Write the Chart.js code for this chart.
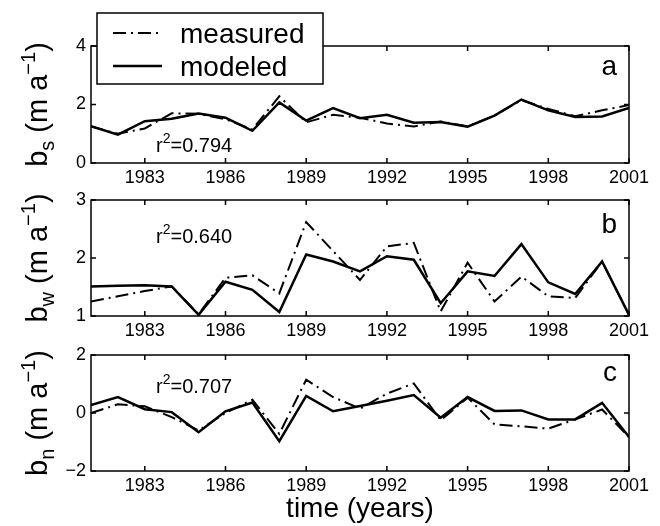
<!DOCTYPE html>
<html>
<head>
<meta charset="utf-8">
<script src="https://cdn.jsdelivr.net/npm/chart.js@4/dist/chart.umd.min.js"></script>
<style>
  html, body { margin: 0; padding: 0; background: #fff; }
  #wrap { position: relative; width: 660px; height: 526px; overflow: hidden; }
  #wrap canvas { position: absolute; left: 0; }
</style>
</head>
<body>
<div id="wrap">
  <canvas id="panelA" width="660" height="200" style="top:0px"></canvas>
  <canvas id="panelB" width="660" height="180" style="top:170px"></canvas>
  <canvas id="panelC" width="660" height="196" style="top:330px"></canvas>
</div>
<script>
const years = [1981, 1982, 1983, 1984, 1985, 1986, 1987, 1988, 1989, 1990, 1991,
               1992, 1993, 1994, 1995, 1996, 1997, 1998, 1999, 2000, 2001];
const xTicks = [1983, 1986, 1989, 1992, 1995, 1998, 2001];
const seriesNames = ["measured", "modeled"];

// panel a : summer balance
const bsMeasured = [1.25, 1.0, 1.18, 1.7, 1.68, 1.5, 1.15, 2.28, 1.39, 1.65, 1.55,
                    1.35, 1.25, 1.42, 1.25, 1.62, 2.15, 1.85, 1.6, 1.8, 1.98];
const bsModeled  = [1.26, 0.97, 1.43, 1.51, 1.69, 1.55, 1.10, 2.07, 1.45, 1.88, 1.53,
                    1.65, 1.38, 1.40, 1.24, 1.62, 2.17, 1.80, 1.57, 1.59, 1.88];
const bsTicks = [0, 2, 4];

// panel b : winter balance
const bwMeasured = [1.25, 1.34, 1.43, 1.51, 1.03, 1.66, 1.70, 1.39, 2.62, 2.12, 1.62,
                    2.2, 2.26, 1.08, 1.92, 1.25, 1.68, 1.34, 1.31, 1.94, 1.02];
const bwModeled  = [1.51, 1.52, 1.53, 1.51, 1.02, 1.59, 1.45, 1.07, 2.06, 1.94, 1.77,
                    2.03, 1.97, 1.22, 1.77, 1.69, 2.24, 1.58, 1.38, 1.94, 1.02];
const bwTicks = [1, 2, 3];

// panel c : net balance
const bnMeasured = [0.0, 0.3, 0.23, -0.14, -0.6, 0.0, 0.46, -0.72, 1.15, 0.55, 0.15,
                    0.67, 1.02, -0.25, 0.53, -0.39, -0.46, -0.54, -0.22, 0.12, -0.83];
const bnModeled  = [0.27, 0.55, 0.13, 0.03, -0.66, 0.06, 0.36, -0.97, 0.59, 0.06, 0.24,
                    0.42, 0.62, -0.16, 0.55, 0.07, 0.09, -0.22, -0.22, 0.35, -0.83];
const bnTicks = [-2, 0, 2];

const FONT = "'Liberation Sans', Arial, Helvetica, sans-serif";
const DASHDOT = [13, 5, 2, 5];

function pts(vals) {
  return years.map((yr, i) => ({ x: yr, y: vals[i] }));
}

// draws a row of text pieces (normal / sub / sup) starting at x
function richText(ctx, parts, x, y) {
  parts.forEach(p => {
    ctx.font = p.size + "px " + FONT;
    ctx.fillText(p.t, x, y + (p.dy || 0));
    x += ctx.measureText(p.t).width;
  });
}
function richWidth(ctx, parts) {
  let w = 0;
  parts.forEach(p => { ctx.font = p.size + "px " + FONT; w += ctx.measureText(p.t).width; });
  return w;
}

const panelDeco = {
  id: 'panelDeco',
  afterDraw(chart, args, o) {
    const ctx = chart.ctx, a = chart.chartArea;
    const xs = chart.scales.x, ys = chart.scales.y;
    ctx.save();
    ctx.strokeStyle = '#000';
    ctx.fillStyle = '#000';
    ctx.lineWidth = 1.5;
    ctx.setLineDash([]);
    ctx.strokeRect(a.left, a.top, a.width, a.height);

    // inward ticks, MATLAB style
    ctx.beginPath();
    xTicks.forEach(v => {
      const px = xs.getPixelForValue(v);
      ctx.moveTo(px, a.bottom); ctx.lineTo(px, a.bottom - 5);
      ctx.moveTo(px, a.top); ctx.lineTo(px, a.top + 5);
    });
    o.yTicks.forEach(v => {
      const py = ys.getPixelForValue(v);
      ctx.moveTo(a.left, py); ctx.lineTo(a.left + 5, py);
      ctx.moveTo(a.right, py); ctx.lineTo(a.right - 5, py);
    });
    ctx.stroke();

    ctx.textBaseline = 'alphabetic';
    ctx.textAlign = 'left';

    // r^2 note
    richText(ctx, [
      { t: 'r', size: 20 },
      { t: '2', size: 14, dy: -9 },
      { t: '=' + o.r2, size: 20 }
    ], 156, a.top + o.r2Dy);

    // panel letter
    ctx.font = "28px " + FONT;
    ctx.textAlign = 'right';
    ctx.fillText(o.letter, 617, a.top + o.letterDy);
    ctx.textAlign = 'left';

    // y axis title, rotated
    const parts = [
      { t: 'b', size: 29 },
      { t: o.sub, size: 20, dy: 7 },
      { t: ' (m a', size: 29 },
      { t: '\u22121', size: 20, dy: -12 },
      { t: ')', size: 29 }
    ];
    const w = richWidth(ctx, parts);
    ctx.save();
    ctx.translate(47, (a.top + a.bottom) / 2);
    ctx.rotate(-Math.PI / 2);
    richText(ctx, parts, -w / 2, 0);
    ctx.restore();

    // legend box (panel a only)
    if (o.legend) {
      ctx.fillStyle = '#fff';
      ctx.fillRect(97, 13, 226, 71);
      ctx.strokeRect(97, 13, 226, 71);
      ctx.fillStyle = '#000';
      const rows = [{ y: 33, base: 43, ds: 0 }, { y: 66, base: 76, ds: 1 }];
      rows.forEach(r => {
        const ds = chart.data.datasets[r.ds];
        ctx.lineWidth = ds.borderWidth;
        ctx.setLineDash(ds.borderDash || []);
        ctx.beginPath();
        ctx.moveTo(113, r.y); ctx.lineTo(162, r.y);
        ctx.stroke();
        ctx.setLineDash([]);
        ctx.font = "28px " + FONT;
        ctx.fillText(ds.label, 180, r.base);
      });
    }
    ctx.restore();
  }
};

function makePanel(id, measured, modeled, yTicks, deco, pad, xHeight, showTitle) {
  return new Chart(document.getElementById(id).getContext('2d'), {
    type: 'line',
    data: {
      datasets: [
        { label: seriesNames[0], data: pts(measured), borderColor: '#000',
          borderWidth: 2, borderDash: DASHDOT, pointRadius: 0, tension: 0, fill: false },
        { label: seriesNames[1], data: pts(modeled), borderColor: '#000',
          borderWidth: 2.5, pointRadius: 0, tension: 0, fill: false }
      ]
    },
    options: {
      responsive: false,
      animation: false,
      layout: { padding: { left: 0, right: 31, top: pad, bottom: 0 } },
      plugins: { legend: { display: false }, tooltip: { enabled: false }, panelDeco: deco },
      scales: {
        x: {
          type: 'linear', min: years[0], max: years[years.length - 1],
          grid: { display: false, drawTicks: false },
          border: { display: false },
          afterBuildTicks: s => { s.ticks = xTicks.map(v => ({ value: v })); },
          afterFit: s => { s.height = xHeight; },
          ticks: { color: '#000', font: { family: FONT, size: 18 }, padding: 4,
                   maxRotation: 0, autoSkip: false, callback: v => String(v) },
          title: { display: showTitle, text: 'time (years)', color: '#000',
                   font: { family: FONT, size: 28 }, padding: 0 }
        },
        y: {
          min: yTicks[0], max: yTicks[yTicks.length - 1],
          grid: { display: false, drawTicks: false },
          border: { display: false },
          afterBuildTicks: s => { s.ticks = yTicks.map(v => ({ value: v })); },
          afterFit: s => { s.width = 91; },
          ticks: { color: '#000', font: { family: FONT, size: 18 }, padding: 5,
                   callback: v => v < 0 ? '\u2212' + Math.abs(v) : String(v) }
        }
      }
    },
    plugins: [panelDeco]
  });
}

makePanel('panelA', bsMeasured, bsModeled, bsTicks,
  { yTicks: bsTicks, r2: '0.794', r2Dy: 106, letter: 'a', letterDy: 29, sub: 's', legend: true },
  46, 37, false);
makePanel('panelB', bwMeasured, bwModeled, bwTicks,
  { yTicks: bwTicks, r2: '0.640', r2Dy: 43, letter: 'b', letterDy: 33, sub: 'w', legend: false },
  30, 34, false);
makePanel('panelC', bnMeasured, bnModeled, bnTicks,
  { yTicks: bnTicks, r2: '0.707', r2Dy: 38, letter: 'c', letterDy: 26, sub: 'n', legend: false },
  25, 55, true);
</script>
</body>
</html>
